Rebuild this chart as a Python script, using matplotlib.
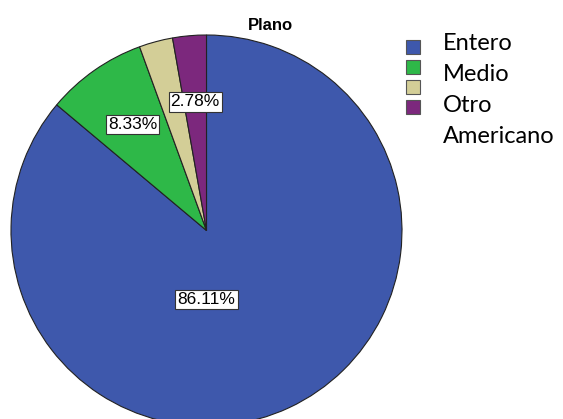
import numpy as np
import matplotlib
matplotlib.use("Agg")
import matplotlib.pyplot as plt
from matplotlib.patches import Rectangle

title = "Plano"
categories = ["Entero", "Medio", "Otro", "Americano"]
values = [86.11, 8.33, 2.78, 2.78]
colors = ["#3E58AC", "#2EB848", "#D3CE97", "#7C287D"]
show_label = [True, True, False, True]

W, H = 563, 419
fig = plt.figure(figsize=(W / 100, H / 100), dpi=100)

cx, cy, r = 206.5, 230.5, 195.5
ax = fig.add_axes([(cx - r) / W, 1 - (cy + r) / H, 2 * r / W, 2 * r / H])
wedges, texts, autotexts = ax.pie(
    values, colors=colors, startangle=90, counterclock=False,
    autopct=lambda p: f"{p:.2f}%", pctdistance=0.66,
    wedgeprops=dict(edgecolor="#222222", linewidth=0.8),
    textprops=dict(fontsize=12.5, family="Liberation Sans"))
ax.set_xlim(-1, 1)
ax.set_ylim(-1, 1)
ax.set_aspect("equal")
ax.axis("off")

for i, t in enumerate(autotexts):
    t.set_text(f"{values[i]:.2f}%")
    t.set_visible(show_label[i])
    t.set_bbox(dict(facecolor="white", edgecolor="#333333", linewidth=0.8,
                    boxstyle="square,pad=0.12"))
# the large slice's label sits below the centre (SPSS placement)
autotexts[0].set_position((0.0, -0.355))

fig.text(270.5 / W, 1 - 25 / H, title, ha="center", va="center",
         fontsize=12, fontweight="bold", family="Liberation Sans")

# legend
sq = 14
for i, (cat, col) in enumerate(zip(categories, colors)):
    yc = 47 + 20 * i
    fig.patches.append(Rectangle(((406) / W, 1 - (yc + sq / 2) / H), sq / W, sq / H,
                                 transform=fig.transFigure, facecolor=col,
                                 edgecolor="#555555", linewidth=0.8))
    fig.text(443 / W, 1 - (50 + 31 * i) / H, cat, ha="left", va="baseline",
             fontsize=17, family="Lato")

fig.savefig("out.png", dpi=100)
